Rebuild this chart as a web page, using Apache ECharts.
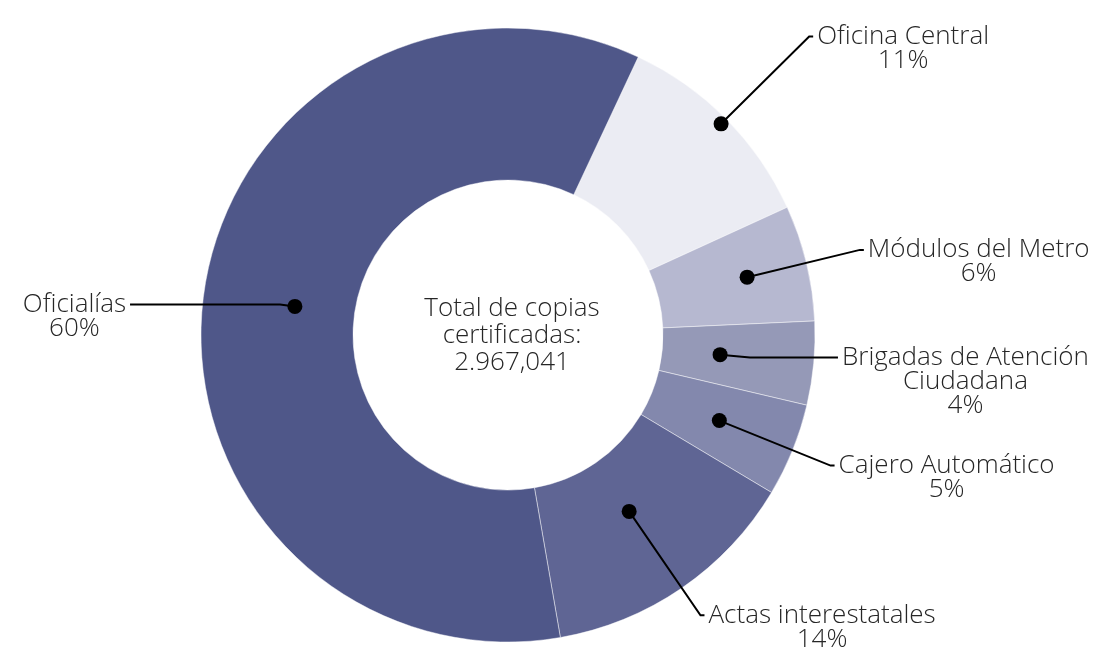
<!DOCTYPE html>
<html>
<head>
<meta charset="utf-8">
<title>Copias certificadas</title>
<script src="https://cdn.jsdelivr.net/npm/echarts@6/dist/echarts.min.js"></script>
<style>
  html, body { margin: 0; padding: 0; background: #fff; }
  #chart { width: 1107px; height: 651px; }
</style>
</head>
<body>
<div id="chart"></div>
<script>
// datos (porcentaje de copias por canal)
const categories = ['Oficina Central', 'Módulos del Metro', 'Brigadas de Atención\nCiudadana', 'Cajero Automático', 'Actas interestatales', 'Oficialías'];
const shares = [11.2, 6.1, 4.4, 4.9, 13.7, 59.7];
const colors = ['#ebecf3', '#b6b8d0', '#9599b7', '#8388ad', '#5f6594', '#4f5789'];
const totalText = ['Total de copias', 'certificadas:', '2.967,041'];

// geometria de la dona
const center = [508, 335];
const ringRadius = [155, 307];
const startAngle = 64.9;
// radio donde arranca cada linea guia (el punto negro) y largo de sus tramos
const anchorR = [300, 246, 213, 228, 214, 215];
const lineLen = [124, 116, 30, 120, 126, 15];
const lineLen2 = [4, 4, 88, 4, 4, 150];

const font = '"Open Sans", "DejaVu Sans", sans-serif';
const fontSize = 26;
const lineH = 24;
const textColor = '#262626';

const total = shares.reduce((a, b) => a + b, 0);

function labelText(p) {
  let lines = p.name.split('\n');
  lines.push(Math.round(p.percent) + '%');
  return lines.map(l => '{t|' + l + '}').join('\n');
}

// una serie transparente por etiqueta, para que cada linea salga de su propio radio
let labelSeries = categories.map((name, i) => {
  let nLines = name.split('\n').length + 1;
  return {
    type: 'pie',
    silent: true,
    z: 3,
    center: center,
    radius: [0, anchorR[i]],
    startAngle: startAngle,
    avoidLabelOverlap: false,
    itemStyle: { color: 'rgba(0,0,0,0)' },
    label: { show: false },
    labelLine: { show: false },
    data: shares.map((v, j) => {
      if (j !== i) return { name: categories[j], value: v };
      return {
        name: categories[j],
        value: v,
        label: {
          show: true,
          formatter: labelText,
          distanceToLabelLine: 4,
          padding: [(nLines - 1) * lineH, 0, 0, 0],
          rich: {
            t: {
              fontFamily: font,
              fontSize: fontSize,
              fontWeight: 300,
              color: textColor,
              lineHeight: lineH,
              align: 'center'
            }
          }
        },
        labelLine: {
          show: true,
          length: lineLen[i],
          length2: lineLen2[i],
          smooth: false,
          lineStyle: { color: '#000', width: 2 }
        }
      };
    })
  };
});

// puntos negros al inicio de cada linea guia
let cum = 0;
let dots = shares.map((v, i) => {
  let p = [anchorR[i], cum + v / 2];
  cum += v;
  return p;
});

const chart = echarts.init(document.getElementById('chart'));
chart.setOption({
  animation: false,
  backgroundColor: '#fff',
  polar: { center: center, radius: ringRadius[1] },
  angleAxis: { type: 'value', min: 0, max: total, startAngle: startAngle, clockwise: true, show: false },
  radiusAxis: { type: 'value', min: 0, max: ringRadius[1], show: false },
  graphic: [{
    type: 'text',
    x: 512,
    y: 336,
    z: 20,
    style: {
      text: totalText.join('\n'),
      fontFamily: font,
      fontSize: fontSize,
      fontWeight: 300,
      fill: textColor,
      lineHeight: 27,
      align: 'center',
      verticalAlign: 'middle'
    }
  }],
  series: [{
    type: 'pie',
    silent: true,
    z: 2,
    center: center,
    radius: ringRadius,
    startAngle: startAngle,
    label: { show: false },
    labelLine: { show: false },
    itemStyle: { borderColor: 'rgba(255,255,255,0.45)', borderWidth: 1 },
    data: shares.map((v, i) => ({ name: categories[i], value: v, itemStyle: { color: colors[i] } }))
  }].concat(labelSeries).concat([{
    type: 'scatter',
    coordinateSystem: 'polar',
    silent: true,
    z: 10,
    symbol: 'circle',
    symbolSize: 15,
    itemStyle: { color: '#000', opacity: 1 },
    data: dots
  }])
});
</script>
</body>
</html>
